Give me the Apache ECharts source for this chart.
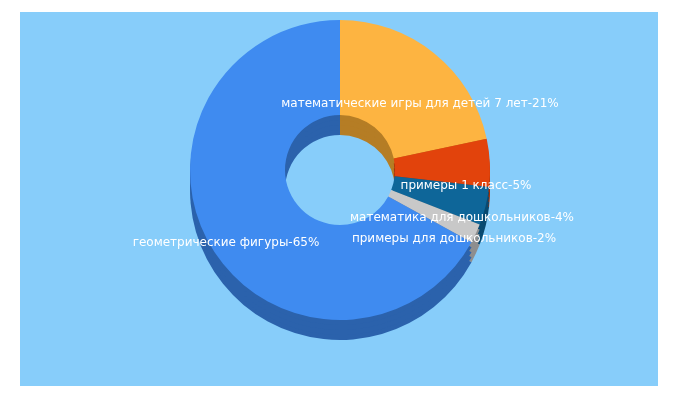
<!DOCTYPE html>
<html><head><meta charset="utf-8">
<script src="https://cdn.jsdelivr.net/npm/echarts@6/dist/echarts.min.js"></script>
<style>html,body{margin:0;padding:0;background:#fff}#c{width:680px;height:400px}</style>
</head><body><div id="c"></div>
<script>
const categories = ['математические игры для детей 7 лет','примеры 1 класс','математика для дошкольников','примеры для дошкольников','геометрические фигуры'];
const values = [21,5,4,2,65];
const colors = ['#fdb441','#e2430c','#0e6699','#c8c8c8','#3f8bf0'];
const sideColors = ['#b57d25','#9e2f08','#0a4a70','#8e8e8e','#2b62ac'];
const labelPos = [[420,104],[466,186],[462,218],[454,239],[226,243]];
const chart = echarts.init(document.getElementById('c'));
const data = categories.map((n,i)=>({name:n,value:values[i]}));
const series = [];
[20,15,10,5].forEach(dy=>{
  series.push({type:'pie',silent:true,center:[340,170+dy],radius:[55,150],startAngle:90,clockwise:true,
    label:{show:false},labelLine:{show:false},
    data:data.map((d,i)=>({name:d.name,value:d.value,itemStyle:{color:sideColors[i]}}))});
});
series.push({type:'pie',center:[340,170],radius:[55,150],startAngle:90,clockwise:true,
  avoidLabelOverlap:false,
  data:data.map((d,i)=>({name:d.name,value:d.value,itemStyle:{color:colors[i]}})),
  label:{show:true,position:'inside',color:'#fff',fontSize:12,fontFamily:'DejaVu Sans',overflow:'none',
    formatter:p=>p.name+'-'+p.value+'%'},
  labelLayout:p=>({x:labelPos[p.dataIndex][0],y:labelPos[p.dataIndex][1],align:'center',verticalAlign:'middle',hideOverlap:false}),
  labelLine:{show:false}});
chart.setOption({
  animation:false,
  graphic:[{type:'rect',z:-10,shape:{x:20,y:12,width:638,height:374},style:{fill:'#87cdfa'}}],
  series
});
</script></body></html>
